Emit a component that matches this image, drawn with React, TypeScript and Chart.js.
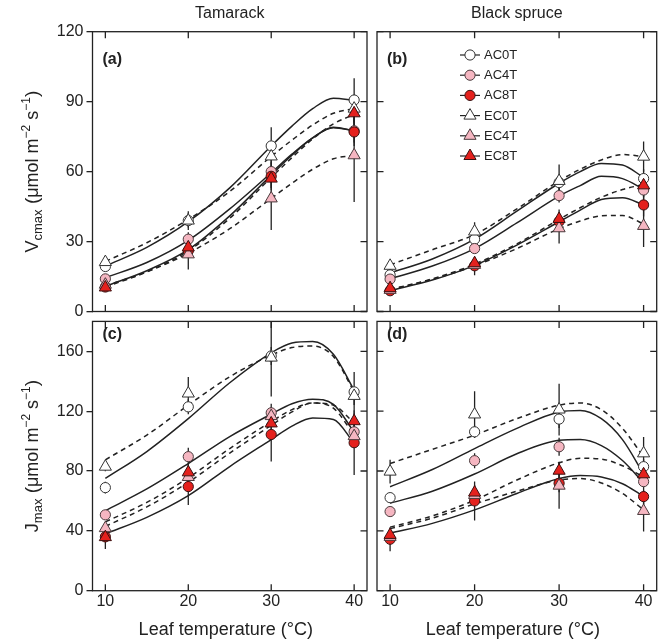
import React, { useEffect, useRef } from 'react';
import { Chart, registerables } from 'chart.js';

Chart.register(...registerables);

const PAGE_W = 665;
const PAGE_H = 642;
const FONT = '"Liberation Sans", Arial, Helvetica, sans-serif';
const INK = '#222222';

// ---------------- data ----------------
const SERIES = ['AC0T', 'AC4T', 'AC8T', 'EC0T', 'EC4T', 'EC8T'];
const SERIES_FILL = ['#ffffff', '#f5b6c1', '#e4211d', '#ffffff', '#f5b6c1', '#e4211d'];
const SERIES_STROKE = ['#333333', '#4a3a3c', '#3a1010', '#333333', '#4a3a3c', '#3a1010'];
const SERIES_SHAPE = ['circle', 'circle', 'circle', 'triangle', 'triangle', 'triangle'];
const SERIES_DASHED = [false, false, false, true, true, true];

const TEMPS = [10, 20, 30, 40];
const CURVE_T = [10, 15, 20, 25, 30, 32.5, 35, 37.5, 40];
const X_TICKS = [10, 20, 30, 40];
const VC_TICKS = [0, 30, 60, 90, 120];
const J_TICKS = [0, 40, 80, 120, 160];
const X_RANGE = [8.45, 41.55];
const VC_MAX = 120;
const J_MAX = 180;

const COLUMN_TITLES = ['Tamarack', 'Black spruce'];
const X_TITLE = 'Leaf temperature (°C)';

// (a) Vcmax, Tamarack  (rows follow SERIES, columns follow TEMPS)
const vcTamPts = [
  [19.3, 39, 71, 90.7],
  [14, 31, 60, 77.5],
  [10.5, 26, 58, 77],
  [21.2, 39, 66.5, 87],
  [11.5, 24.5, 48.5, 67],
  [10.3, 27.5, 57, 85],
];
const vcTamErr = [
  [1.5, 3, 8, 9.3],
  [1.5, 3, 4, 5],
  [1.5, 3, 5, 6],
  [1.5, 4, 5, 6],
  [1.5, 6.5, 13.5, 20],
  [1.5, 3, 5, 6],
];
const vcTamCurve = [
  [19.5, 27.5, 38.5, 53, 71, 79.5, 87, 91.5, 90.6],
  [14.5, 21, 30.5, 44, 59.5, 67.5, 74.5, 78.8, 77.5],
  [10.8, 17.5, 26.5, 41, 58.5, 67, 74.5, 79, 77.5],
  [21.5, 29.5, 39.5, 51.5, 66.5, 73.5, 80, 85, 87],
  [11, 17, 25, 35.5, 48.5, 55, 61, 65.5, 67],
  [10.5, 17, 26, 40, 57.5, 66, 74, 80.5, 84.5],
];

// (b) Vcmax, Black spruce
const vcBsPts = [
  [15.7, 31, 55.3, 57],
  [13.9, 27, 49.7, 52.1],
  [8.9, 19.6, 38.6, 45.7],
  [19.6, 34.3, 56, 66.4],
  [9.3, 20, 35.7, 36.7],
  [10, 20.7, 39.7, 54.1],
];
const vcBsErr = [
  [1.5, 2, 3, 4],
  [1.5, 2, 3, 4],
  [1.5, 4, 4, 5],
  [2, 4, 7, 6.5],
  [1.5, 2, 6.5, 9],
  [1.5, 2, 4, 5],
];
const vcBsCurve = [
  [16.5, 22.5, 31, 43, 55, 60, 63.5, 62.8, 57.5],
  [14, 19.5, 27, 38, 49.5, 54, 58, 57, 52.5],
  [9, 13.5, 19.8, 28.5, 38.5, 43.5, 48, 48.8, 45.7],
  [20, 26.5, 33, 44, 56, 61, 65, 67.3, 66.5],
  [9.3, 13.8, 19.6, 27, 35.5, 38.8, 41, 41.2, 37.5],
  [9.5, 14, 20.3, 29, 39.5, 44.5, 49, 52.3, 54.5],
];

// (c) Jmax, Tamarack
const jTamPts = [
  [68.9, 122.9, 156.9, 132.9],
  [50.7, 89.6, 118.9, 106.2],
  [36, 69.6, 104.4, 98.9],
  [82.9, 131.8, 155.8, 130.2],
  [41.8, 76, 116.7, 103.3],
  [35.8, 79.1, 111.8, 113.3],
];
const jTamErr = [
  [4, 5, 6, 13.3],
  [3, 6, 6, 6],
  [3, 12.3, 18, 21.6],
  [3, 11, 26, 6],
  [3, 5, 6, 6],
  [8, 5, 6, 6],
];
const jTamCurve = [
  [75, 93, 115, 139, 159, 165.5, 166.5, 158, 134],
  [53.5, 68, 85, 103, 118, 125, 128, 124.5, 106],
  [38, 49, 63.5, 83, 101, 110, 115.5, 114.5, 98.5],
  [87.5, 104, 124, 143, 157.5, 162.5, 163.5, 156.5, 133],
  [46, 59, 75.5, 95, 113, 121, 125.5, 122, 104],
  [43, 56, 72.5, 92, 110.5, 119.5, 125.5, 124, 112],
];

// (d) Jmax, Black spruce
const jBsPts = [
  [62.2, 106.2, 114.7, 82.9],
  [52.9, 86.9, 96.2, 72.9],
  [34.4, 60, 71.8, 62.9],
  [79.6, 117.8, 121.1, 91.8],
  [36, 64, 70.2, 53.3],
  [37.3, 65.6, 80.2, 77.8],
];
const jBsErr = [
  [3, 4, 6, 5],
  [3, 5, 6, 5],
  [8, 13, 6, 5],
  [8, 15.5, 17.3, 11],
  [3, 5, 15.5, 13.7],
  [3, 5, 6, 5],
];
const jBsCurve = [
  [69.5, 81, 95, 108.5, 119.5, 120.5, 115, 101, 78],
  [58.5, 66.5, 78, 91.5, 100.5, 101, 97, 87, 72],
  [38.5, 45, 54, 65, 75, 77, 76, 71.5, 63],
  [85, 94.5, 104, 115, 124, 125.5, 121, 108.5, 89.5],
  [41.5, 48.5, 58, 66.5, 74, 75, 72, 65, 54],
  [42.5, 50, 60.5, 74, 85.5, 88.5, 88, 83.5, 76],
];

// ---------------- layout ----------------
type Rect = { l: number; t: number; r: number; b: number };
type PanelDef = {
  tag: string;
  row: number;
  col: number;
  pts: number[][];
  err: number[][];
  curve: number[][];
  yMax: number;
  yTicks: number[];
  rect: Rect;
};

const PANELS: PanelDef[] = [
  { tag: '(a)', row: 0, col: 0, pts: vcTamPts, err: vcTamErr, curve: vcTamCurve, yMax: VC_MAX, yTicks: VC_TICKS, rect: { l: 92.5, t: 31.7, r: 367, b: 311.5 } },
  { tag: '(b)', row: 0, col: 1, pts: vcBsPts, err: vcBsErr, curve: vcBsCurve, yMax: VC_MAX, yTicks: VC_TICKS, rect: { l: 377, t: 31.7, r: 656.7, b: 311.5 } },
  { tag: '(c)', row: 1, col: 0, pts: jTamPts, err: jTamErr, curve: jTamCurve, yMax: J_MAX, yTicks: J_TICKS, rect: { l: 92.5, t: 321.4, r: 367, b: 590.7 } },
  { tag: '(d)', row: 1, col: 1, pts: jBsPts, err: jBsErr, curve: jBsCurve, yMax: J_MAX, yTicks: J_TICKS, rect: { l: 377, t: 321.4, r: 656.7, b: 590.7 } },
];

type Part = { text: string; size: number; dy: number };

const Y_TITLES: Part[][] = [
  [
    { text: 'V', size: 18, dy: 0 },
    { text: 'cmax', size: 13, dy: 4 },
    { text: ' (', size: 19, dy: 0 },
    { text: 'μmol m', size: 18, dy: 0 },
    { text: '−2', size: 12, dy: -8 },
    { text: ' s', size: 18, dy: 0 },
    { text: '−1', size: 12, dy: -8 },
    { text: ')', size: 19, dy: 0 },
  ],
  [
    { text: 'J', size: 18, dy: 0 },
    { text: 'max', size: 13, dy: 4 },
    { text: ' (', size: 19, dy: 0 },
    { text: 'μmol m', size: 18, dy: 0 },
    { text: '−2', size: 12, dy: -8 },
    { text: ' s', size: 18, dy: 0 },
    { text: '−1', size: 12, dy: -8 },
    { text: ')', size: 19, dy: 0 },
  ],
];

function drawRichVertical(ctx: CanvasRenderingContext2D, cx: number, cy: number, parts: Part[]) {
  ctx.save();
  let total = 0;
  const widths: number[] = [];
  for (const p of parts) {
    ctx.font = `${p.size}px ${FONT}`;
    const w = ctx.measureText(p.text).width;
    widths.push(w);
    total += w;
  }
  ctx.translate(cx, cy);
  ctx.rotate(-Math.PI / 2);
  ctx.fillStyle = INK;
  ctx.textAlign = 'left';
  ctx.textBaseline = 'alphabetic';
  let x = -total / 2;
  parts.forEach((p, i) => {
    ctx.font = `${p.size}px ${FONT}`;
    ctx.fillText(p.text, x, p.dy);
    x += widths[i];
  });
  ctx.restore();
}

function drawMarker(ctx: CanvasRenderingContext2D, shape: string, x: number, y: number, r: number) {
  ctx.beginPath();
  if (shape === 'triangle') {
    let rad = 0;
    ctx.moveTo(x + Math.sin(rad) * r, y - Math.cos(rad) * r);
    rad += (2 * Math.PI) / 3;
    ctx.lineTo(x + Math.sin(rad) * r, y - Math.cos(rad) * r);
    rad += (2 * Math.PI) / 3;
    ctx.lineTo(x + Math.sin(rad) * r, y - Math.cos(rad) * r);
    ctx.closePath();
  } else {
    ctx.arc(x, y, r, 0, Math.PI * 2);
  }
  ctx.fill();
  ctx.stroke();
}

const markerRadius = (i: number) => (SERIES_SHAPE[i] === 'triangle' ? 7 : 5.1);

function buildConfig(p: PanelDef): any {
  const datasets: any[] = [];
  SERIES.forEach((name, i) => {
    datasets.push({
      label: name + ' fit',
      data: CURVE_T.map((t, k) => ({ x: t, y: p.curve[i][k] })),
      borderColor: INK,
      borderWidth: 1.5,
      borderDash: SERIES_DASHED[i] ? [5, 4] : [],
      pointRadius: 0,
      cubicInterpolationMode: 'monotone',
      fill: false,
      order: 20,
    });
  });
  SERIES.forEach((name, i) => {
    datasets.push({
      label: name,
      data: TEMPS.map((t, k) => ({ x: t, y: p.pts[i][k] })),
      showLine: false,
      pointStyle: SERIES_SHAPE[i],
      pointRadius: markerRadius(i),
      pointBackgroundColor: SERIES_FILL[i],
      pointBorderColor: SERIES_STROKE[i],
      pointBorderWidth: 1,
      order: 10 - i,
    });
  });

  const showX = p.row === 1;
  const showY = p.col === 0;

  const deco = {
    id: 'panelDeco',
    beforeDatasetsDraw(chart: any) {
      const { ctx, chartArea: a, scales } = chart;
      ctx.save();
      ctx.beginPath();
      ctx.rect(a.left, a.top, a.right - a.left, a.bottom - a.top);
      ctx.clip();
      ctx.strokeStyle = INK;
      ctx.lineWidth = 1.3;
      SERIES.forEach((_, i) => {
        TEMPS.forEach((t, k) => {
          const e = p.err[i][k];
          if (!e) return;
          const x = scales.x.getPixelForValue(t);
          const y1 = scales.y.getPixelForValue(p.pts[i][k] - e);
          const y2 = scales.y.getPixelForValue(p.pts[i][k] + e);
          ctx.beginPath();
          ctx.moveTo(x, y1);
          ctx.lineTo(x, y2);
          ctx.stroke();
        });
      });
      ctx.restore();
    },
    afterDatasetsDraw(chart: any) {
      const { ctx, chartArea: a, scales } = chart;
      const TL = 6.5;
      ctx.save();
      ctx.strokeStyle = INK;
      ctx.lineWidth = 1.3;
      ctx.strokeRect(a.left, a.top, a.right - a.left, a.bottom - a.top);
      ctx.beginPath();
      X_TICKS.forEach((v) => {
        const x = scales.x.getPixelForValue(v);
        ctx.moveTo(x, a.top);
        ctx.lineTo(x, a.top + TL);
        ctx.moveTo(x, a.bottom);
        ctx.lineTo(x, a.bottom - TL);
      });
      p.yTicks.forEach((v) => {
        const y = scales.y.getPixelForValue(v);
        ctx.moveTo(a.right, y);
        ctx.lineTo(a.right - TL, y);
        if (p.col === 1) {
          ctx.moveTo(a.left, y);
          ctx.lineTo(a.left + TL, y);
        }
      });
      ctx.stroke();

      // panel tag
      ctx.fillStyle = INK;
      ctx.font = `bold 16px ${FONT}`;
      ctx.textAlign = 'left';
      ctx.textBaseline = 'alphabetic';
      ctx.fillText(p.tag, a.left + 10, a.top + (p.row === 0 ? 32 : 18));

      // legend in panel (b)
      if (p.row === 0 && p.col === 1) {
        ctx.font = `13px ${FONT}`;
        ctx.textBaseline = 'middle';
        SERIES.forEach((name, i) => {
          const y = a.top + 23.3 + i * 20.2;
          const x0 = a.left + 83;
          ctx.strokeStyle = INK;
          ctx.lineWidth = 1.2;
          ctx.setLineDash([]);
          ctx.beginPath();
          ctx.moveTo(x0, y);
          ctx.lineTo(x0 + 20, y);
          ctx.stroke();
          ctx.fillStyle = SERIES_FILL[i];
          ctx.strokeStyle = SERIES_STROKE[i];
          ctx.lineWidth = 1;
          drawMarker(ctx, SERIES_SHAPE[i], x0 + 10, y, markerRadius(i));
          ctx.fillStyle = INK;
          ctx.fillText(name, x0 + 24, y + 0.5);
        });
      }
      ctx.restore();
    },
    afterDraw(chart: any) {
      const { ctx, chartArea: a } = chart;
      ctx.save();
      ctx.fillStyle = INK;
      ctx.textAlign = 'center';
      ctx.textBaseline = 'alphabetic';
      if (p.row === 0) {
        ctx.font = `16px ${FONT}`;
        ctx.fillText(COLUMN_TITLES[p.col], (a.left + a.right) / 2, 18);
      } else {
        ctx.font = `18px ${FONT}`;
        ctx.fillText(X_TITLE, (a.left + a.right) / 2 - 4, 635);
      }
      ctx.restore();
      if (p.col === 0) {
        drawRichVertical(ctx, 38, (a.top + a.bottom) / 2, Y_TITLES[p.row]);
      }
    },
  };

  return {
    type: 'line',
    data: { datasets },
    plugins: [deco],
    options: {
      responsive: false,
      animation: false,
      devicePixelRatio: 1,
      events: [],
      layout: {
        padding: {
          left: showY ? 0 : p.rect.l,
          right: PAGE_W - p.rect.r,
          top: p.rect.t,
          bottom: showX ? 0 : PAGE_H - p.rect.b,
        },
      },
      plugins: { legend: { display: false }, tooltip: { enabled: false }, title: { display: false } },
      scales: {
        x: {
          type: 'linear',
          min: X_RANGE[0],
          max: X_RANGE[1],
          display: showX,
          afterBuildTicks: (s: any) => {
            s.ticks = X_TICKS.map((v) => ({ value: v }));
          },
          afterFit: (s: any) => {
            s.height = showX ? PAGE_H - p.rect.b : 0;
          },
          ticks: { font: { family: FONT, size: 16 }, color: INK, padding: 1, maxRotation: 0, autoSkip: false },
          grid: { display: false, drawTicks: false },
          border: { display: false },
        },
        y: {
          type: 'linear',
          min: 0,
          max: p.yMax,
          display: showY,
          afterBuildTicks: (s: any) => {
            s.ticks = p.yTicks.map((v) => ({ value: v }));
          },
          afterFit: (s: any) => {
            s.width = showY ? p.rect.l : 0;
          },
          ticks: { font: { family: FONT, size: 16 }, color: INK, padding: 3 },
          grid: { display: true, drawOnChartArea: false, drawTicks: true, tickLength: 6, color: INK, lineWidth: 1.3 },
          border: { display: false },
        },
      },
    },
  };
}

function Panel({ def }: { def: PanelDef }) {
  const ref = useRef<HTMLCanvasElement>(null);
  useEffect(() => {
    const canvas = ref.current;
    if (!canvas) return;
    const chart = new Chart(canvas, buildConfig(def));
    return () => chart.destroy();
  }, [def]);
  return (
    <canvas
      ref={ref}
      width={PAGE_W}
      height={PAGE_H}
      style={{ position: 'absolute', left: 0, top: 0, width: PAGE_W, height: PAGE_H }}
    />
  );
}

export default function App() {
  return (
    <div style={{ position: 'fixed', left: 0, top: 0, width: PAGE_W, height: PAGE_H, background: '#ffffff', overflow: 'hidden' }}>
      {PANELS.map((d) => (
        <Panel key={d.tag} def={d} />
      ))}
    </div>
  );
}
